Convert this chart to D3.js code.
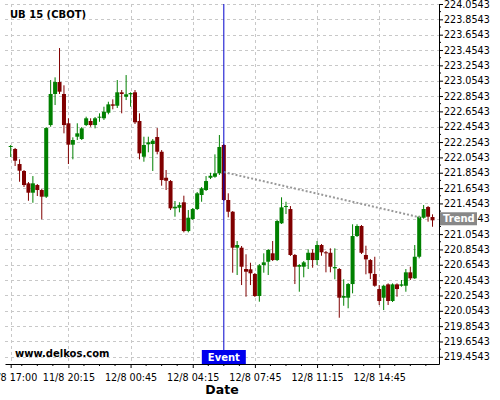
<!DOCTYPE html>
<html>
<head>
<meta charset="utf-8">
<script src="https://cdn.jsdelivr.net/npm/d3@7"></script>
<style>
  body { margin: 0; background: #fff; }
  text { font-family: "DejaVu Sans", sans-serif; }
</style>
</head>
<body>
<div id="chart"></div>
<script>
// 15 minute candles, UB 15 (CBOT)
var opens = [222.196,222.164,221.968,221.877,221.716,221.594,221.694,221.629,221.542,222.476,
  222.881,223.037,222.881,222.499,222.220,222.324,222.294,222.476,222.529,222.476,
  222.572,222.564,222.637,222.746,222.728,222.903,222.845,222.877,222.903,222.529,
  222.063,222.225,222.229,222.320,222.128,221.789,221.746,221.390,221.398,221.469,
  221.094,221.251,221.381,221.564,221.629,221.789,221.802,221.847,222.216,221.499,
  221.346,220.877,220.877,220.599,220.595,220.534,220.247,220.651,220.694,220.804,
  220.716,221.195,221.411,221.381,220.782,220.629,220.629,220.716,220.811,220.716,
  220.912,220.817,220.811,220.608,220.599,220.225,220.225,220.403,221.029,221.160,
  220.782,220.716,220.534,220.338,220.225,220.399,220.182,220.399,220.381,220.381,
  220.556,220.478,220.759,221.268,221.407,221.277];
var highs = [222.216,222.177,222.029,221.890,221.733,221.811,221.707,221.642,222.450,223.063,
  223.098,223.480,222.994,222.564,222.316,222.499,222.450,222.585,222.564,222.581,
  222.629,222.715,222.780,222.811,223.063,222.933,223.128,222.903,222.933,222.629,
  222.324,222.324,222.294,222.437,222.150,221.890,221.759,221.486,221.469,221.555,
  221.368,221.394,221.603,221.668,221.811,221.854,222.094,222.346,222.229,221.586,
  221.355,220.964,220.899,220.791,220.681,220.547,220.664,220.804,220.860,220.964,
  221.238,221.534,221.476,221.420,220.795,220.664,220.703,220.856,220.856,220.964,
  220.925,220.834,220.869,220.869,220.612,220.465,220.416,221.182,221.182,221.173,
  220.903,220.729,220.759,220.390,220.394,220.412,220.412,220.412,220.456,220.599,
  220.629,220.912,221.294,221.433,221.420,221.312];
var lows = [222.059,221.942,221.737,221.668,221.489,221.463,221.551,221.247,221.525,222.454,
  222.737,222.881,222.368,221.968,222.029,222.281,222.281,222.463,222.454,222.433,
  222.519,222.542,222.616,222.681,222.698,222.629,222.802,222.715,222.490,222.029,
  221.998,222.121,221.877,222.094,221.685,221.629,221.368,221.281,221.338,221.077,
  221.077,221.238,221.368,221.476,221.616,221.772,221.789,221.825,221.486,221.273,
  220.551,220.521,220.390,220.238,220.390,220.234,220.173,220.551,220.521,220.703,
  220.703,221.186,221.316,220.769,220.403,220.303,220.491,220.599,220.616,220.651,
  220.772,220.556,220.556,220.465,219.964,220.120,220.087,220.282,221.016,220.795,
  220.530,220.469,220.368,220.130,220.064,220.130,220.169,220.238,220.368,220.303,
  220.456,220.469,220.738,221.255,221.216,221.150];
var closes = [222.203,222.011,221.881,221.694,221.594,221.716,221.629,221.542,222.437,222.881,
  223.037,222.911,222.476,222.220,222.281,222.368,222.433,222.564,222.476,222.564,
  222.585,222.650,222.746,222.728,222.903,222.881,222.877,222.894,222.512,222.107,
  222.216,222.251,222.272,222.128,221.759,221.750,221.390,221.411,221.433,221.094,
  221.268,221.381,221.586,221.651,221.746,221.815,221.847,222.190,221.499,221.346,
  220.877,220.912,220.629,220.564,220.543,220.247,220.647,220.686,220.847,220.716,
  221.225,221.403,221.420,220.782,220.629,220.651,220.686,220.811,220.716,220.912,
  220.817,220.804,220.629,220.625,220.225,220.247,220.403,221.029,221.160,220.811,
  220.725,220.543,220.381,220.182,220.381,220.182,220.399,220.338,220.399,220.556,
  220.478,220.759,221.281,221.381,221.281,221.234];

var xTickIdx = [0, 13, 27, 41, 55, 69, 83];
var xTickLabels = ["11/8 17:00", "11/8 20:15", "12/8 00:45", "12/8 04:15",
  "12/8 07:45", "12/8 11:15", "12/8 14:45"];
var yTicks = [219.4543, 219.6543, 219.8543, 220.0543, 220.2543, 220.4543, 220.6543, 220.8543,
  221.0543, 221.2543, 221.4543, 221.6543, 221.8543, 222.0543, 222.2543, 222.4543,
  222.6543, 222.8543, 223.0543, 223.2543, 223.4543, 223.6543, 223.8543, 224.0543];

var eventIdx = 48;
var trendIdx = [48, 92.2];
var trendVal = [221.863, 221.272];

var width = 500, height = 400;
var plotL = 5, plotR = 439, plotT = 4, plotB = 364;

var svg = d3.select('#chart').append('svg')
  .attr('width', width)
  .attr('height', height)
  .style('display', 'block');

svg.append('rect').attr('width', width).attr('height', height).attr('fill', '#fff');

var x = d3.scaleLinear().domain([-1.28, 96.46]).range([plotL, plotR]);
var y = d3.scaleLinear().domain([219.3607, 224.0543]).range([plotB, plotT]);

// grid
var grid = svg.append('g')
  .attr('stroke', '#c8c8c8')
  .attr('stroke-dasharray', '3,3')
  .attr('stroke-width', 1);

grid.selectAll('.hg').data(yTicks).enter().append('line')
  .attr('x1', plotL).attr('x2', plotR)
  .attr('y1', function(d) { return Math.round(y(d)) + 0.5; })
  .attr('y2', function(d) { return Math.round(y(d)) + 0.5; });

grid.selectAll('.vg').data(xTickIdx).enter().append('line')
  .attr('y1', plotT).attr('y2', plotB)
  .attr('x1', function(d) { return Math.round(x(d)) + 0.5; })
  .attr('x2', function(d) { return Math.round(x(d)) + 0.5; });

// candles
var idx = d3.range(opens.length);
var col = function(i) { return closes[i] >= opens[i] ? '#008000' : '#800000'; };

var candles = svg.append('g');
candles.selectAll('.wick').data(idx).enter().append('line')
  .attr('x1', function(i) { return x(i); })
  .attr('x2', function(i) { return x(i); })
  .attr('y1', function(i) { return y(highs[i]); })
  .attr('y2', function(i) { return y(lows[i]); })
  .attr('stroke', col)
  .attr('stroke-width', 1);

candles.selectAll('.body').data(idx).enter().append('rect')
  .attr('x', function(i) { return x(i) - 2; })
  .attr('width', 4)
  .attr('y', function(i) { return y(Math.max(opens[i], closes[i])); })
  .attr('height', function(i) {
    return Math.max(1, Math.abs(y(opens[i]) - y(closes[i])));
  })
  .attr('fill', col);

// trend line
svg.append('line')
  .attr('x1', x(trendIdx[0])).attr('y1', y(trendVal[0]))
  .attr('x2', x(trendIdx[1])).attr('y2', y(trendVal[1]))
  .attr('stroke', '#999')
  .attr('stroke-width', 2)
  .attr('stroke-dasharray', '2,2');

// event line
svg.append('line')
  .attr('x1', x(eventIdx)).attr('x2', x(eventIdx))
  .attr('y1', plotT).attr('y2', plotB - 14)
  .attr('stroke', '#0000cc')
  .attr('stroke-width', 1);

// right axis
var yAxis = svg.append('g')
  .attr('transform', 'translate(' + plotR + ',0)')
  .call(d3.axisRight(y).tickValues(yTicks).tickFormat(d3.format('.4f'))
    .tickSize(4).tickSizeOuter(0).tickPadding(1));
yAxis.selectAll('text').attr('font-size', '9.6px').attr('font-family', '"DejaVu Sans", sans-serif');

var yMinor = yTicks.slice(0, -1).map(function(d) { return d + 0.1; });
yAxis.selectAll('.minor').data(yMinor).enter().append('line')
  .attr('x1', 0).attr('x2', 2)
  .attr('y1', function(d) { return y(d); })
  .attr('y2', function(d) { return y(d); })
  .attr('stroke', '#000');

// bottom axis
var xAxis = svg.append('g')
  .attr('transform', 'translate(0,' + plotB + ')')
  .call(d3.axisBottom(x).tickValues(xTickIdx)
    .tickFormat(function(d, i) { return xTickLabels[i]; })
    .tickSize(4).tickSizeOuter(0).tickPadding(6));
xAxis.selectAll('text').attr('font-size', '9.6px').attr('font-family', '"DejaVu Sans", sans-serif');

var xMinor = d3.range(2.5, 96, 3.5).filter(function(d) { return xTickIdx.indexOf(d) < 0; });
xAxis.selectAll('.minor').data(xMinor).enter().append('line')
  .attr('x1', function(d) { return x(d); })
  .attr('x2', function(d) { return x(d); })
  .attr('y1', 0).attr('y2', 2)
  .attr('stroke', '#000');

// trend label
var ty = y(yTicks[9]);
svg.append('rect')
  .attr('x', plotR + 1).attr('y', ty - 6.5)
  .attr('width', 37).attr('height', 13)
  .attr('fill', '#888');
svg.append('text')
  .attr('x', plotR + 4).attr('y', ty + 3.6)
  .attr('fill', '#fff')
  .attr('font-size', '10px')
  .attr('font-weight', 'bold')
  .text('Trend');

// event label
svg.append('rect')
  .attr('x', x(eventIdx) - 22).attr('y', plotB - 14)
  .attr('width', 44).attr('height', 14)
  .attr('fill', '#0000ee');
svg.append('text')
  .attr('x', x(eventIdx)).attr('y', plotB - 3.5)
  .attr('text-anchor', 'middle')
  .attr('fill', '#fff')
  .attr('font-size', '10px')
  .attr('font-weight', 'bold')
  .text('Event');

// titles
svg.append('text')
  .attr('x', 10).attr('y', 18)
  .attr('font-size', '10px')
  .attr('font-weight', 'bold')
  .text('UB 15 (CBOT)');

svg.append('text')
  .attr('x', 15).attr('y', 357)
  .attr('font-size', '10px')
  .attr('font-weight', 'bold')
  .text('www.delkos.com');

svg.append('text')
  .attr('x', 222).attr('y', 394)
  .attr('text-anchor', 'middle')
  .attr('font-size', '12.5px')
  .attr('font-weight', 'bold')
  .text('Date');
</script>
</body>
</html>
